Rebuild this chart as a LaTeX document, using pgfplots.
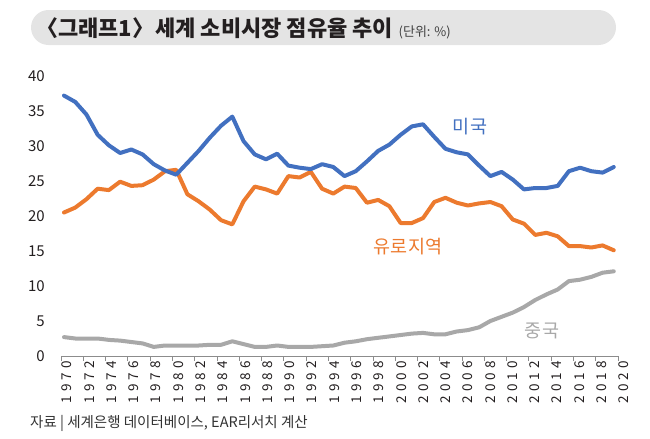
\documentclass[border=0pt]{standalone}
\usepackage{fontspec}
\setmainfont{Noto Sans CJK KR}
\usepackage{pgfplots}
\usepackage{pgfplotstable}
\pgfplotsset{compat=1.18}
\definecolor{usblue}{HTML}{4270C0}
\definecolor{euorange}{HTML}{EC7A2E}
\definecolor{cngray}{HTML}{A8A8A8}
\definecolor{bandgray}{HTML}{E4E4E4}
\definecolor{axgray}{HTML}{8C8C8C}
\definecolor{txt}{HTML}{231F20}

\pgfplotstableread{
year us euro china
1970 37.2 20.5 2.7
1971 36.3 21.2 2.5
1972 34.5 22.4 2.5
1973 31.6 23.9 2.5
1974 30.1 23.7 2.3
1975 29.0 24.9 2.2
1976 29.5 24.3 2.0
1977 28.8 24.4 1.8
1978 27.4 25.2 1.3
1979 26.5 26.4 1.5
1980 25.9 26.6 1.5
1981 27.6 23.1 1.5
1982 29.3 22.1 1.5
1983 31.2 20.9 1.6
1984 32.9 19.4 1.6
1985 34.2 18.8 2.1
1986 30.7 22.1 1.7
1987 28.8 24.2 1.3
1988 28.1 23.8 1.3
1989 28.9 23.2 1.5
1990 27.2 25.7 1.3
1991 26.9 25.5 1.3
1992 26.7 26.3 1.3
1993 27.4 23.9 1.4
1994 27.0 23.2 1.5
1995 25.7 24.2 1.9
1996 26.4 24.0 2.1
1997 27.8 21.9 2.4
1998 29.3 22.3 2.6
1999 30.2 21.4 2.8
2000 31.6 19.0 3.0
2001 32.8 19.0 3.2
2002 33.1 19.7 3.3
2003 31.3 22.0 3.1
2004 29.6 22.6 3.1
2005 29.1 21.9 3.5
2006 28.8 21.5 3.7
2007 27.2 21.8 4.1
2008 25.7 22.0 5.0
2009 26.3 21.4 5.6
2010 25.2 19.5 6.2
2011 23.8 18.9 7.0
2012 24.0 17.3 8.0
2013 24.0 17.6 8.8
2014 24.3 17.1 9.5
2015 26.4 15.7 10.7
2016 26.9 15.7 10.9
2017 26.4 15.5 11.3
2018 26.2 15.8 11.9
2019 27.0 15.1 12.1
}\datatable

\begin{document}
\begin{tikzpicture}
\path[use as bounding box] (0,0) rectangle (650bp,-439bp);
% title band
\fill[bandgray, rounded corners=17.5bp] (31bp,-10bp) rectangle (616bp,-45bp);
\node[anchor=base west, inner sep=0pt, text=txt] at (36bp,-36.5bp)
  {\fontsize{22bp}{22bp}\selectfont\bfseries 〈그래프1〉\hspace{0.05em}세계 소비시장 점유율 추이\hspace{0.25em}{\mdseries\fontsize{13bp}{13bp}\selectfont\color{black!75}(단위: \%)}};

\begin{axis}[
  at={(61bp,-356bp)}, anchor=south west,
  scale only axis, width=557bp, height=280bp,
  xmin=1970, xmax=2020, ymin=0, ymax=40,
  clip=false,
  axis lines*=left,
  y axis line style={draw=none},
  x axis line style={draw=axgray, line width=0.8bp},
  xtick={1970,1972,...,2020},
  ytick={0,5,...,40},
  ytick style={draw=none},
  xtick style={draw=axgray, line width=0.8bp},
  tick align=outside,
  major tick length=5bp,
  /pgf/number format/1000 sep={},
  /pgf/number format/assume math mode=true,
  xticklabel style={rotate=90, anchor=east, inner sep=0pt, xshift=0bp, yshift=-6bp,
     font=\fontsize{13.5bp}{13.5bp}\selectfont\addfontfeatures{LetterSpace=30}, text=txt},
  yticklabel style={anchor=east, inner sep=0pt, xshift=-11bp,
     font=\fontsize{15bp}{15bp}\selectfont, text=txt},
  every axis plot/.append style={line width=4bp, line join=round, line cap=round, mark=none},
]
\addplot[cngray] table[x expr={1970.27+1.0072*(\thisrow{year}-1970)}, y=china] {\datatable};
\addplot[euorange] table[x expr={1970.27+1.0072*(\thisrow{year}-1970)}, y=euro] {\datatable};
\addplot[usblue] table[x expr={1970.27+1.0072*(\thisrow{year}-1970)}, y=us] {\datatable};
\end{axis}

\node[text=usblue, font=\fontsize{18.5bp}{18.5bp}\selectfont] at (470bp,-127bp) {미국};
\node[text=euorange, font=\fontsize{18.5bp}{18.5bp}\selectfont] at (408bp,-247bp) {유로지역};
\node[text=cngray, font=\fontsize{18.5bp}{18.5bp}\selectfont] at (542bp,-331bp) {중국};

\node[anchor=base west, inner sep=0pt, text=black!80, font=\fontsize{14.5bp}{14.5bp}\selectfont]
  at (30bp,-427bp) {자료 | 세계은행 데이터베이스, EAR리서치 계산};
\end{tikzpicture}
\end{document}
